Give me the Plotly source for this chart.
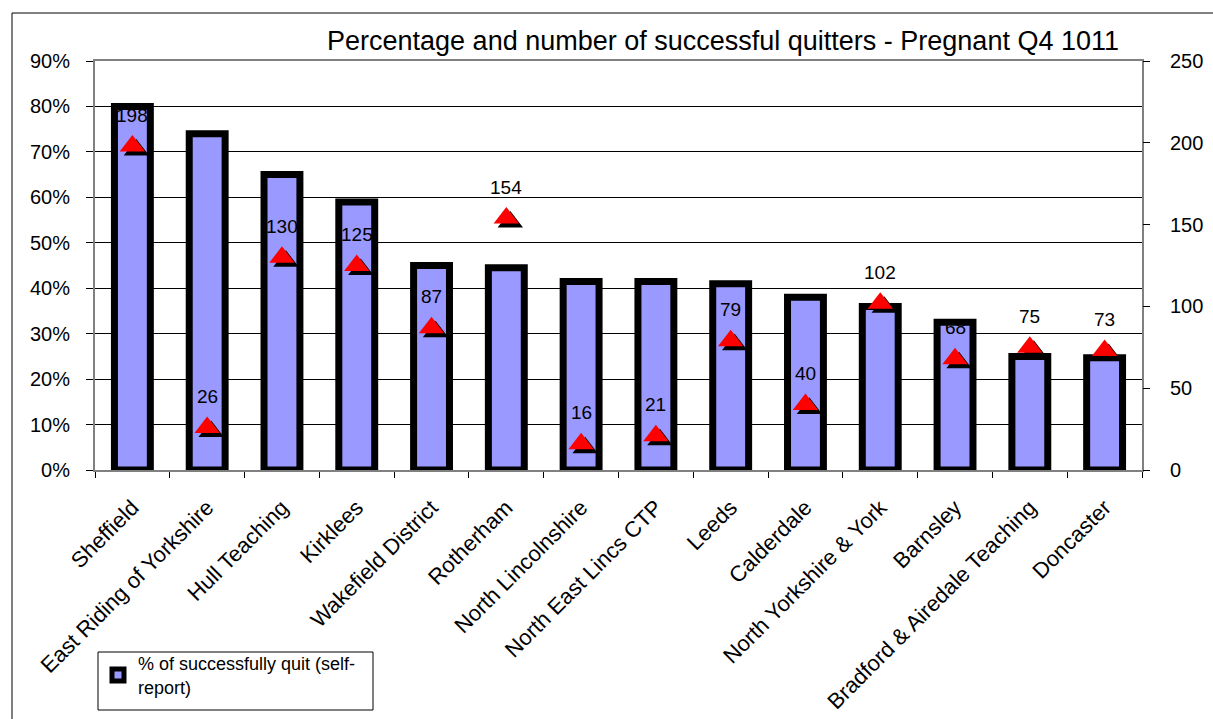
import plotly.graph_objects as go

categories = ["Sheffield", "East Riding of Yorkshire", "Hull Teaching", "Kirklees",
              "Wakefield District", "Rotherham", "North Lincolnshire", "North East Lincs CTP",
              "Leeds", "Calderdale", "North Yorkshire & York", "Barnsley",
              "Bradford & Airedale Teaching", "Doncaster"]
pct_quit = [0.80, 0.74, 0.65, 0.59, 0.45, 0.445, 0.415, 0.415, 0.41, 0.38, 0.36, 0.325, 0.25, 0.247]
num_quit = [198, 26, 130, 125, 87, 154, 16, 21, 79, 40, 102, 68, 75, 73]

FONT = "Liberation Sans, Arial, sans-serif"

# plot area in pixels
L, R, T, B = 95, 1142, 61, 470
W, H = 1213, 719
pw, ph = R - L, B - T

def px_x(p):
    return (p - L) / pw

def px_y(p):
    return (B - p) / ph

n = len(categories)
xr = [-0.5, n - 0.5]
yr2 = [0, 250]
# shadow offset in pixels -> axis-range shift
dx_px, dy_px = 4, 4
xshift = dx_px * n / pw
yshift = dy_px * (yr2[1] - yr2[0]) / ph

fig = go.Figure()
fig.add_trace(go.Bar(
    x=categories, y=pct_quit, name="% of successfully quit (self-<br>report)",
    marker=dict(color="#9999FF", line=dict(color="black", width=7)),
    xaxis="x", yaxis="y", showlegend=True,
))
# shadow of triangles
fig.add_trace(go.Scatter(
    x=categories, y=num_quit, mode="markers",
    marker=dict(symbol="triangle-up", size=22, color="black"),
    xaxis="x3", yaxis="y3", showlegend=False, hoverinfo="skip",
))
# red triangles
fig.add_trace(go.Scatter(
    x=categories, y=num_quit, mode="markers",
    marker=dict(symbol="triangle-up", size=22, color="#FF0000"),
    xaxis="x4", yaxis="y4", showlegend=False, name="Number",
))

annotations = [
    dict(x=c, y=v, xref="x", yref="y2", text=str(v), showarrow=False,
         yshift=31, font=dict(family=FONT, size=19, color="black"))
    for c, v in zip(categories, num_quit)
]

fig.update_layout(
    width=W, height=H,
    margin=dict(l=L, r=W - R, t=T, b=H - B, pad=0, autoexpand=False),
    paper_bgcolor="white", plot_bgcolor="white",
    font=dict(family=FONT, size=19, color="black"),
    bargap=0.52,
    title=dict(text="Percentage and number of successful quitters - Pregnant Q4 1011",
               xref="container", yref="container", x=723 / W, y=1 - 41 / H,
               xanchor="center", yanchor="middle",
               font=dict(family=FONT, size=27, color="black")),
    xaxis=dict(type="category", range=xr, tickangle=-45, automargin=False,
               tickfont=dict(family=FONT, size=22, color="black"),
               ticks="outside", tickson="boundaries", ticklen=6, tickcolor="black",
               ticklabelstandoff=14,
               showline=True, linecolor="#808080", linewidth=2, mirror=True,
               showgrid=False),
    yaxis=dict(range=[0, 0.9], dtick=0.1, tickformat=".0%", automargin=False,
               ticks="outside", ticklen=7, tickcolor="black",
               ticklabelstandoff=12,
               showline=True, linecolor="#808080", linewidth=2, mirror=True,
               showgrid=True, gridcolor="black", gridwidth=1,
               zeroline=False, tickfont=dict(family=FONT, size=20)),
    yaxis2=dict(range=yr2, dtick=50, overlaying="y", side="right", automargin=False,
                ticks="outside", ticklen=7, tickcolor="black",
                ticklabelstandoff=16,
                showgrid=False, zeroline=False, showline=False,
                tickfont=dict(family=FONT, size=20)),
    xaxis3=dict(type="category", overlaying="x", range=[xr[0] - xshift, xr[1] - xshift],
                visible=False, automargin=False),
    yaxis3=dict(range=[yr2[0] + yshift, yr2[1] + yshift], overlaying="y", visible=False,
                automargin=False),
    xaxis4=dict(type="category", overlaying="x", range=xr, visible=False, automargin=False),
    yaxis4=dict(range=yr2, overlaying="y", visible=False, automargin=False),
    legend=dict(x=px_x(98), y=px_y(645), xanchor="left", yanchor="top",
                borderwidth=0, bgcolor="rgba(0,0,0,0)",
                font=dict(family=FONT, size=18, color="black")),
    annotations=annotations,
    shapes=[
        dict(type="path", xref="paper", yref="paper",
             path=f"M {px_x(12)},{px_y(760)} L {px_x(12)},{px_y(13)} L {px_x(1260)},{px_y(13)}",
             line=dict(color="black", width=1)),
        dict(type="rect", xref="paper", yref="paper",
             x0=px_x(98), x1=px_x(373), y0=px_y(710), y1=px_y(652),
             line=dict(color="black", width=1), fillcolor="white", layer="above"),
    ],
)

fig.write_html("out.html")
